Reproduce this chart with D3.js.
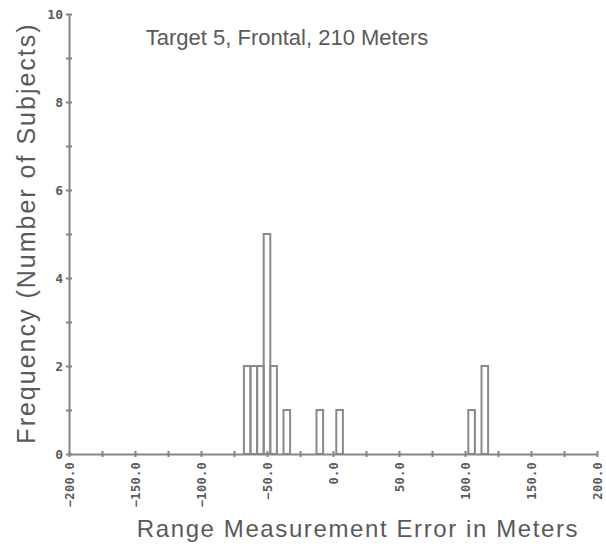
<!DOCTYPE html>
<html>
<head>
<meta charset="utf-8">
<script src="https://cdn.jsdelivr.net/npm/d3@7"></script>
<style>
  body { margin: 0; background: #fff; }
  svg { display: block; }
</style>
</head>
<body>
<svg id="chart" width="606" height="554"></svg>
<script>
// bin centres (meters, 5 m bins) and number of subjects in each
var binCenters = [-65, -60, -55, -50, -45, -35, -10, 5, 105, 115];
var counts     = [  2,   2,   2,   5,   2,   1,   1, 1,   1,   2];
var binWidth = 5;

var xTicks = [-200, -150, -100, -50, 0, 50, 100, 150, 200];
var xMinorTicks = [-175, -125, -75, -25, 25, 75, 125, 175];
var yTicks = [0, 2, 4, 6, 8, 10];
var yMinorTicks = [1, 3, 5, 7, 9];

var title = "Target 5, Frontal, 210 Meters";
var xTitle = "Range Measurement Error in Meters";
var yTitle = "Frequency (Number of Subjects)";

var axisColor = "#858585";
var textColor = "#5a5a5a";

var svg = d3.select("#chart");

var x = d3.scaleLinear().domain([-200, 200]).range([69, 597]);
var y = d3.scaleLinear().domain([0, 10]).range([454, 14]);

// bars, drawn as outlines
svg.append("g")
    .selectAll("rect")
    .data(binCenters)
    .join("rect")
    .attr("x", function(d) { return x(d - binWidth / 2); })
    .attr("width", function(d) { return x(d + binWidth / 2) - x(d - binWidth / 2); })
    .attr("y", function(d, i) { return y(counts[i]); })
    .attr("height", function(d, i) { return y(0) - y(counts[i]); })
    .attr("fill", "none")
    .attr("stroke", "#8a8a8a")
    .attr("stroke-width", 2);

// x axis
var xAxis = svg.append("g")
    .attr("transform", "translate(0," + y(0) + ")")
    .call(d3.axisBottom(x).tickValues(xTicks.concat(xMinorTicks)).tickSizeOuter(0)
        .tickFormat(function(d) { return xTicks.indexOf(d) >= 0 ? d3.format(".1f")(d) : ""; }));
xAxis.select(".domain").attr("stroke", axisColor).attr("stroke-width", 2);
xAxis.selectAll(".tick line").attr("y1", -3).attr("y2", 3)
    .attr("stroke", axisColor).attr("stroke-width", 2);
xAxis.selectAll(".tick text")
    .attr("transform", "rotate(-90)")
    .attr("x", -8).attr("y", 0).attr("dy", "0.35em")
    .attr("text-anchor", "end")
    .attr("fill", textColor)
    .style("font-family", "'DejaVu Sans Mono', monospace")
    .style("font-size", "12px")
    .style("font-weight", "bold")
    .style("letter-spacing", "0.3px");

// y axis
var yAxis = svg.append("g")
    .attr("transform", "translate(" + x(-200) + ",0)")
    .call(d3.axisLeft(y).tickValues(yTicks.concat(yMinorTicks)).tickSizeOuter(0)
        .tickFormat(function(d) { return yTicks.indexOf(d) >= 0 ? d : ""; }));
yAxis.select(".domain").attr("stroke", axisColor).attr("stroke-width", 2);
yAxis.selectAll(".tick line").attr("x1", -3).attr("x2", 3)
    .attr("stroke", axisColor).attr("stroke-width", 2);
yAxis.selectAll(".tick text")
    .attr("x", -6)
    .attr("fill", textColor)
    .style("font-family", "'DejaVu Sans Mono', monospace")
    .style("font-size", "13px")
    .style("font-weight", "bold");

// titles
svg.append("text")
    .attr("x", 287).attr("y", 45)
    .attr("text-anchor", "middle")
    .attr("fill", textColor)
    .style("font-family", "'Liberation Sans', Arial, sans-serif")
    .style("font-size", "22px")
    .text(title);

svg.append("text")
    .attr("x", 358).attr("y", 537)
    .attr("text-anchor", "middle")
    .attr("fill", textColor)
    .style("font-family", "'Liberation Sans', Arial, sans-serif")
    .style("font-size", "24px")
    .style("letter-spacing", "1.6px")
    .text(xTitle);

svg.append("text")
    .attr("transform", "translate(35,233) rotate(-90)")
    .attr("text-anchor", "middle")
    .attr("fill", textColor)
    .style("font-family", "'Liberation Sans', Arial, sans-serif")
    .style("font-size", "25px")
    .style("letter-spacing", "2px")
    .text(yTitle);
</script>
</body>
</html>
